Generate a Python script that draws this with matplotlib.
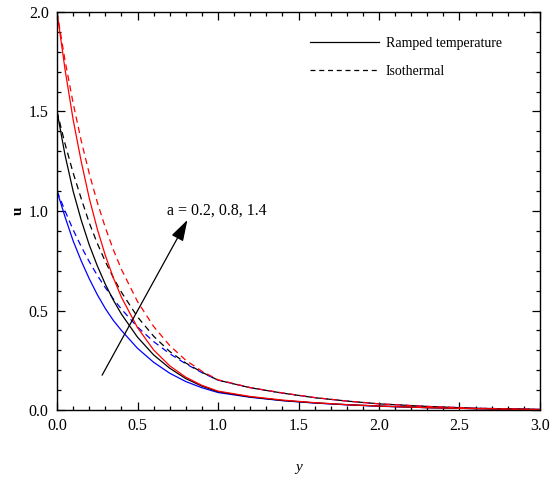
import matplotlib
matplotlib.use("Agg")
import matplotlib.pyplot as plt
from matplotlib.lines import Line2D
from matplotlib.ticker import MultipleLocator

plt.rcParams['font.family'] = ['Liberation Serif', 'DejaVu Serif']

# Values
y_vals = [0.0, 0.05, 0.1, 0.15, 0.2, 0.25, 0.3, 0.35, 0.4, 0.5, 0.6, 0.7, 0.8, 0.9,
          1.0, 1.2, 1.4, 1.6, 1.8, 2.0, 2.3, 2.6, 3.0]

# Ramped temperature (solid)
u_ramp_a02 = [1.10, 0.97, 0.85, 0.75, 0.66, 0.58, 0.51, 0.45, 0.40, 0.31, 0.24, 0.185, 0.143, 0.112,
              0.088, 0.064, 0.047, 0.035, 0.026, 0.019, 0.012, 0.007, 0.002]
u_ramp_a08 = [1.50, 1.28, 1.10, 0.955, 0.83, 0.725, 0.632, 0.552, 0.482, 0.366, 0.277, 0.21, 0.158, 0.12,
              0.092, 0.066, 0.048, 0.036, 0.027, 0.020, 0.012, 0.007, 0.002]
u_ramp_a14 = [2.00, 1.71, 1.46, 1.25, 1.065, 0.91, 0.777, 0.664, 0.567, 0.414, 0.302, 0.222, 0.165, 0.124,
              0.095, 0.068, 0.050, 0.037, 0.027, 0.020, 0.012, 0.007, 0.002]

# Isothermal (dashed)
u_iso_a02 = [1.10, 1.00, 0.906, 0.822, 0.746, 0.677, 0.615, 0.558, 0.507, 0.417, 0.344, 0.283, 0.232, 0.188,
             0.150, 0.112, 0.085, 0.062, 0.045, 0.031, 0.018, 0.009, 0.003]
u_iso_a08 = [1.50, 1.337, 1.192, 1.063, 0.941, 0.838, 0.746, 0.665, 0.592, 0.468, 0.371, 0.294, 0.236, 0.19,
             0.150, 0.112, 0.085, 0.062, 0.045, 0.031, 0.018, 0.009, 0.003]
u_iso_a14 = [2.00, 1.755, 1.542, 1.354, 1.189, 1.044, 0.917, 0.805, 0.707, 0.545, 0.42, 0.324, 0.25, 0.195,
             0.152, 0.113, 0.086, 0.063, 0.045, 0.031, 0.018, 0.009, 0.003]

colors = ['blue', 'black', 'red']
ramp = [u_ramp_a02, u_ramp_a08, u_ramp_a14]
iso = [u_iso_a02, u_iso_a08, u_iso_a14]

x_ticks = [0.0, 0.5, 1.0, 1.5, 2.0, 2.5, 3.0]
y_ticks = [0.0, 0.5, 1.0, 1.5, 2.0]

fig = plt.figure(figsize=(5.59, 4.79), dpi=100)
ax = fig.add_axes([0.102, 0.144, 0.864, 0.831])

for c, r, i in zip(colors, ramp, iso):
    ax.plot(y_vals, r, color=c, lw=0.9, ls='-')
    ax.plot(y_vals, i, color=c, lw=0.9, ls=(0, (5, 3.5)))

ax.set_xlim(0, 3.0)
ax.set_ylim(0, 2.0)
ax.set_xticks(x_ticks)
ax.set_yticks(y_ticks)
ax.set_xticklabels([f"{v:.1f}" for v in x_ticks])
ax.set_yticklabels([f"{v:.1f}" for v in y_ticks])
ax.xaxis.set_minor_locator(MultipleLocator(0.1))
ax.yaxis.set_minor_locator(MultipleLocator(0.1))
ax.tick_params(which='both', direction='in', top=True, right=True, labelsize=11.5, width=0.9)
ax.tick_params(which='major', length=5.5, pad=6)
ax.tick_params(which='minor', length=3)
for s in ax.spines.values():
    s.set_linewidth(1.0)

ax.set_xlabel('y', fontstyle='italic', fontsize=11, labelpad=19)
ax.set_ylabel('u', fontsize=11, fontweight='bold', labelpad=3)

ax.annotate('', xy=(0.81, 0.955), xytext=(0.28, 0.175),
            arrowprops=dict(arrowstyle='-|>,head_length=1.3,head_width=0.4', color='black', lw=0.9,
                            shrinkA=0, shrinkB=0))
ax.text(0.685, 1.0, 'a = 0.2, 0.8, 1.4', fontsize=11.5, ha='left', va='center')

handles = [Line2D([], [], color='black', lw=0.9, ls='-'),
           Line2D([], [], color='black', lw=0.9, ls=(0, (4, 3)))]
ax.legend(handles, ['Ramped temperature', 'Isothermal'], loc='upper left',
          bbox_to_anchor=(0.497, 0.968), frameon=False, fontsize=10,
          handlelength=5.0, handletextpad=0.5, labelspacing=1.05)

fig.savefig('out.png', dpi=100)
